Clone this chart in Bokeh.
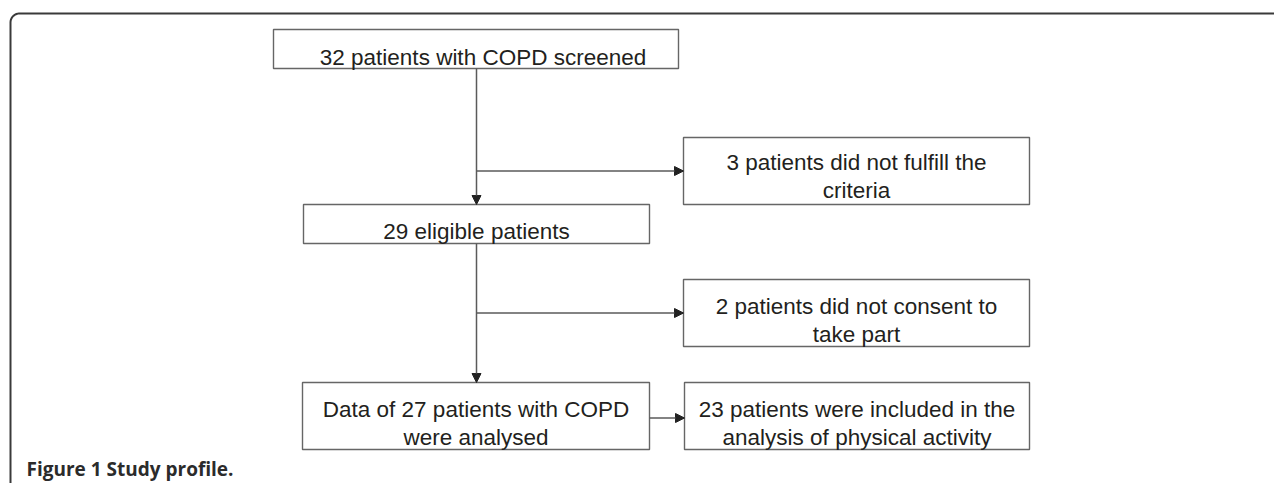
import numpy as np
from bokeh.plotting import figure
from bokeh.models import Range1d, Arrow, NormalHead
from bokeh.embed import file_html
from bokeh.resources import INLINE
from bokeh.core.properties import value

# ---- data (flow counts and box texts) ----
n_screened = 32
n_not_fulfill = 3
n_eligible = 29
n_not_consent = 2
n_analysed = 27
n_included = 23

box_lines = [
    [f"{n_screened} patients with COPD screened"],
    [f"{n_not_fulfill} patients did not fulfill the", "criteria"],
    [f"{n_eligible} eligible patients"],
    [f"{n_not_consent} patients did not consent to", "take part"],
    [f"Data of {n_analysed} patients with COPD", "were analysed"],
    [f"{n_included} patients were included in the", "analysis of physical activity"],
]
caption = "Figure 1 Study profile."

# ---- layout (pixel coordinates of the picture) ----
box_left = [273, 683, 303, 683, 302, 684]
box_right = [678, 1029, 649, 1029, 649, 1029]
box_top = [29, 137, 204, 279, 382, 382]
box_bottom = [68, 204, 243, 346, 449, 449]
first_baseline = [57, 162, 231, 306, 409, 409]
text_dx = [7, 0, 0, 0, 0, 0]
line_gap = 28

W, H = 1274, 483
p = figure(width=W, height=H, x_range=Range1d(0, W), y_range=Range1d(H, 0),
           output_backend="svg", toolbar_location=None, min_border=0,
           x_axis_location=None, y_axis_location=None)
p.grid.visible = False
p.outline_line_color = None
p.background_fill_color = "white"
p.border_fill_color = "white"

# outer frame with rounded top-left corner
fx, fy, r = 10, 13, 9
t = np.linspace(np.pi, 1.5 * np.pi, 20)
xs = [fx] + list(fx + r + r * np.cos(t)) + [W + 5]
ys = [H + 5] + list(fy + r + r * np.sin(t)) + [fy]
p.line(xs, ys, line_color="#3a3a3a", line_width=2)

# connectors
cx = (box_left[2] + box_right[2]) / 2
line_col = "#5a5a5a"
head_col = "#222222"

def arrow(x0, y0, x1, y1):
    p.add_layout(Arrow(end=NormalHead(size=9, fill_color=head_col, line_color=head_col, line_width=1),
                       x_start=x0, y_start=y0, x_end=x1, y_end=y1,
                       line_color=line_col, line_width=1.5))

arrow(cx, box_bottom[0], cx, box_top[2])
branch1 = (box_top[1] + box_bottom[1]) / 2
arrow(cx, branch1, box_left[1], branch1)
arrow(cx, box_bottom[2], cx, box_top[4])
branch2 = (box_top[3] + box_bottom[3]) / 2
arrow(cx, branch2, box_left[3], branch2)
mid = (box_top[4] + box_bottom[4]) / 2 + 2
arrow(box_right[4], mid, box_left[5], mid)

# boxes
p.quad(left=box_left, right=box_right, top=box_top, bottom=box_bottom,
       fill_color="white", line_color="#666666", line_width=1.4)

# texts
tx, ty, tt = [], [], []
for i, lines in enumerate(box_lines):
    c = (box_left[i] + box_right[i]) / 2 + text_dx[i]
    for j, s in enumerate(lines):
        tx.append(c)
        ty.append(first_baseline[i] + j * line_gap)
        tt.append(s)
p.text(x=tx, y=ty, text=tt, text_align="center", text_baseline="alphabetic",
       text_font=value("Liberation Sans"), text_font_size="22.5px", text_color="#231f20")

p.text(x=[26], y=[468], text=[caption], text_align="left", text_baseline="alphabetic",
       text_font=value("Open Sans"), text_font_style="bold", text_font_size="19px",
       text_color="#2b2b2b")

open("out.html", "w").write(file_html(p, INLINE))
